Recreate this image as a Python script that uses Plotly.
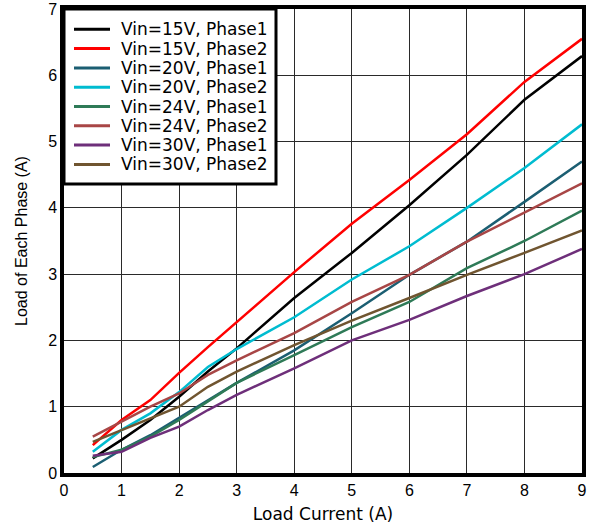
import plotly.graph_objects as go

load_current = [0.5, 1, 1.5, 2, 2.5, 3, 4, 5, 6, 7, 8, 9]

vin15_ph1 = [0.22, 0.50, 0.80, 1.15, 1.53, 1.88, 2.64, 3.32, 4.04, 4.80, 5.63, 6.29]
vin15_ph2 = [0.42, 0.80, 1.10, 1.51, 1.90, 2.28, 3.03, 3.76, 4.42, 5.11, 5.90, 6.55]
vin20_ph1 = [0.09, 0.35, 0.57, 0.83, 1.10, 1.36, 1.85, 2.41, 2.99, 3.49, 4.09, 4.70]
vin20_ph2 = [0.32, 0.65, 0.90, 1.22, 1.60, 1.87, 2.35, 2.92, 3.42, 4.00, 4.60, 5.26]
vin24_ph1 = [0.24, 0.35, 0.55, 0.80, 1.08, 1.36, 1.78, 2.20, 2.58, 3.09, 3.50, 3.96]
vin24_ph2 = [0.55, 0.77, 1.00, 1.20, 1.48, 1.70, 2.11, 2.58, 2.99, 3.49, 3.93, 4.37]
vin30_ph1 = [0.26, 0.32, 0.53, 0.70, 0.95, 1.18, 1.58, 2.00, 2.31, 2.67, 3.00, 3.38]
vin30_ph2 = [0.47, 0.65, 0.83, 1.00, 1.30, 1.53, 1.93, 2.30, 2.64, 2.99, 3.32, 3.66]

series_names = ["Vin=15V, Phase1", "Vin=15V, Phase2", "Vin=20V, Phase1", "Vin=20V, Phase2",
                "Vin=24V, Phase1", "Vin=24V, Phase2", "Vin=30V, Phase1", "Vin=30V, Phase2"]
series_values = [vin15_ph1, vin15_ph2, vin20_ph1, vin20_ph2, vin24_ph1, vin24_ph2, vin30_ph1, vin30_ph2]
series_colors = ["#000000", "#FF0000", "#1B5E72", "#00BCD0", "#2E7A57", "#A84646", "#6E2F7A", "#705530"]

x_ticks = list(range(0, 10))
y_ticks = list(range(0, 8))

W, H = 589, 524
ML, MR, MT, MB = 64, 7, 9, 51
PW, PH = W - ML - MR, H - MT - MB

def px_x(p):
    return (p - ML) / PW

def px_y(p):
    return (H - MB - p) / PH

fig = go.Figure()
for name, vals, col in zip(series_names, series_values, series_colors):
    fig.add_trace(go.Scatter(x=load_current, y=vals, mode="lines", name=name,
                             line=dict(color=col, width=2.5), showlegend=False))

# legend drawn as a box with sample lines and text
shapes = [dict(type="rect", xref="paper", yref="paper", layer="above",
               x0=px_x(64), x1=px_x(276), y0=px_y(184), y1=px_y(9),
               line=dict(color="black", width=3), fillcolor="white")]
annotations = []
row0, row_gap = 29.3, 19.3
for i, (name, col) in enumerate(zip(series_names, series_colors)):
    yc = px_y(row0 + i * row_gap)
    shapes.append(dict(type="line", xref="paper", yref="paper", layer="above",
                       x0=px_x(74), x1=px_x(110), y0=yc, y1=yc,
                       line=dict(color=col, width=3)))
    annotations.append(dict(xref="paper", yref="paper", x=px_x(119), y=yc,
                            xanchor="left", yanchor="middle", showarrow=False,
                            text=name, font=dict(family="DejaVu Sans", size=17, color="black")))

tick_font = dict(family="Liberation Sans, Arial, sans-serif", size=16, color="black")
fig.update_layout(
    width=W, height=H,
    margin=dict(l=ML, r=MR, t=MT, b=MB),
    paper_bgcolor="white", plot_bgcolor="white",
    font=dict(family="Liberation Sans, Arial, sans-serif", color="black", size=16),
    showlegend=False,
    shapes=shapes,
    annotations=annotations,
    xaxis=dict(range=[0, 9], tickvals=x_ticks, ticktext=[str(v) for v in x_ticks],
               showgrid=True, gridcolor="#2a2a2a", gridwidth=1.3,
               showline=True, linecolor="black", linewidth=3.5, mirror=True,
               zeroline=False, ticks="", tickfont=tick_font, automargin=False,
               title=dict(text="Load Current (A)", standoff=16,
                          font=dict(family="DejaVu Sans", size=17, color="black"))),
    yaxis=dict(range=[0, 7], tickvals=y_ticks, ticktext=[str(v) for v in y_ticks],
               showgrid=True, gridcolor="#2a2a2a", gridwidth=1.3,
               showline=True, linecolor="black", linewidth=3.5, mirror=True,
               zeroline=False, ticks="", tickfont=tick_font, automargin=False,
               title=dict(text="Load of Each Phase (A)", standoff=18,
                          font=dict(family="Liberation Sans, Arial, sans-serif", size=16, color="black"))),
)

fig.write_html("out.html", config={"displayModeBar": False},
               post_script="document.body.style.margin='0';")
